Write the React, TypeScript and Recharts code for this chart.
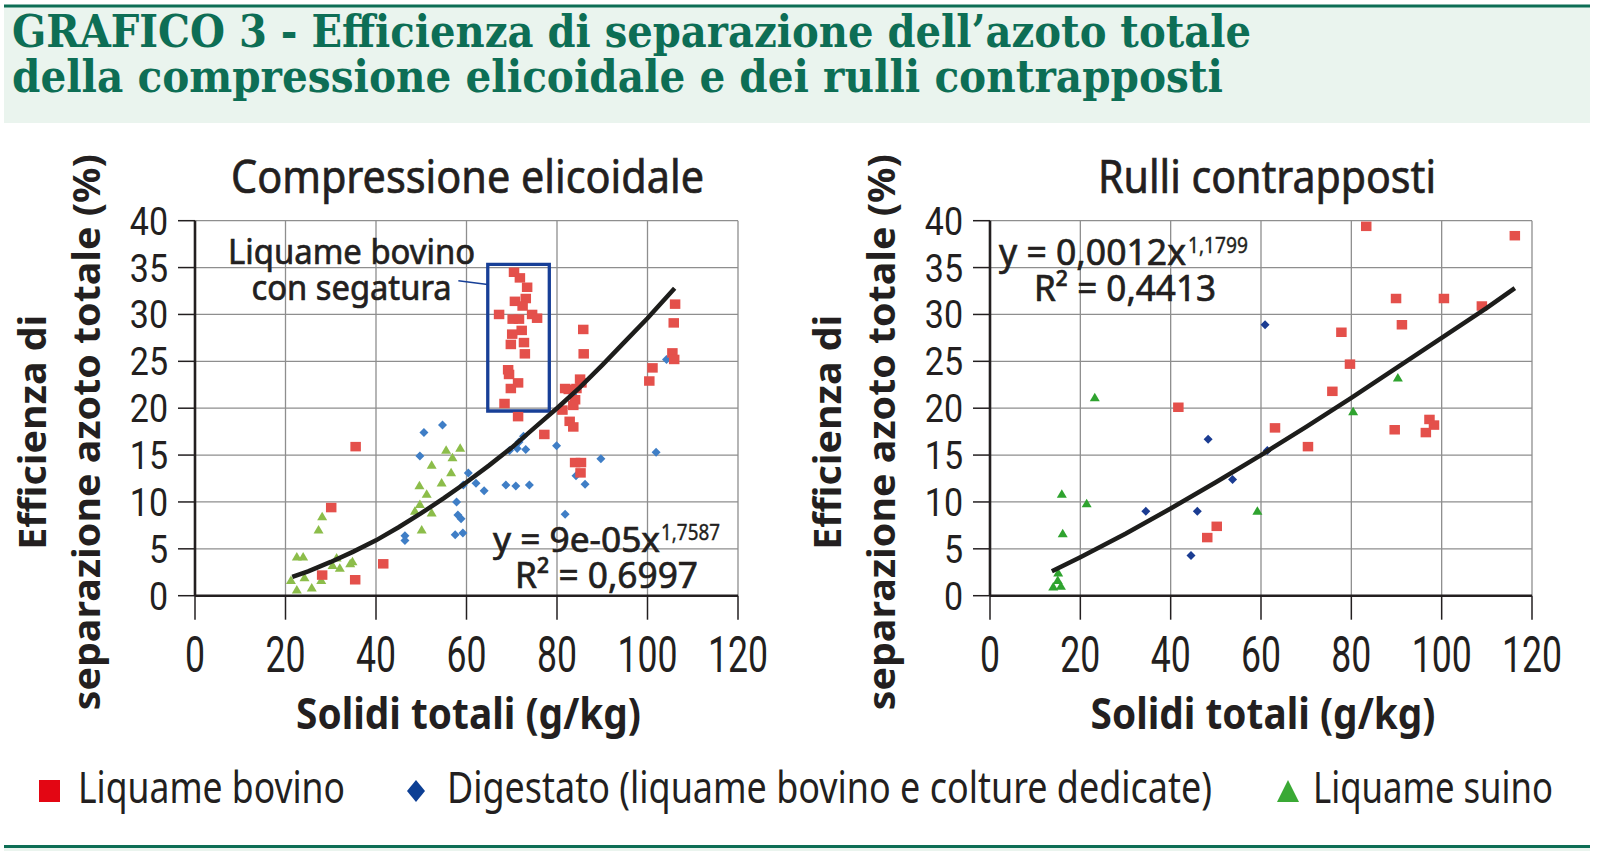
import React from "react";
import {
  ScatterChart,
  Scatter,
  XAxis,
  YAxis,
  CartesianGrid,
  ReferenceArea,
  ReferenceLine,
} from "recharts";

const xTicks = [0, 20, 40, 60, 80, 100, 120];
const yTicks = [0, 5, 10, 15, 20, 25, 30, 35, 40];

const legendLabels = [
  "Liquame bovino",
  "Digestato (liquame bovino e colture dedicate)",
  "Liquame suino",
];

// Compressione elicoidale
const eliBovino = [
  { x: 35.5, y: 15.9 }, { x: 30.1, y: 9.4 }, { x: 28.1, y: 2.2 }, { x: 35.4, y: 1.7 },
  { x: 41.6, y: 3.4 }, { x: 70.5, y: 34.5 }, { x: 71.8, y: 33.9 }, { x: 73.4, y: 32.9 },
  { x: 73.1, y: 31.7 }, { x: 70.7, y: 31.4 }, { x: 72.4, y: 30.9 }, { x: 67.2, y: 30.0 },
  { x: 74.5, y: 30.0 }, { x: 75.6, y: 29.6 }, { x: 70.2, y: 29.5 }, { x: 71.6, y: 29.5 },
  { x: 72.2, y: 28.3 }, { x: 70.1, y: 27.9 }, { x: 69.8, y: 26.8 }, { x: 72.7, y: 27.0 },
  { x: 72.9, y: 25.8 }, { x: 69.2, y: 24.1 }, { x: 69.4, y: 23.6 }, { x: 71.4, y: 22.7 },
  { x: 69.8, y: 22.1 }, { x: 68.4, y: 20.5 }, { x: 71.4, y: 19.1 }, { x: 77.2, y: 17.2 },
  { x: 85.8, y: 28.4 }, { x: 85.9, y: 25.8 }, { x: 85.1, y: 23.1 }, { x: 85.4, y: 22.7 },
  { x: 84.3, y: 22.1 }, { x: 81.8, y: 22.1 }, { x: 82.6, y: 22.0 }, { x: 84.0, y: 20.9 },
  { x: 83.6, y: 20.3 }, { x: 81.2, y: 19.8 }, { x: 82.8, y: 18.6 }, { x: 83.6, y: 18.0 },
  { x: 84.0, y: 14.2 }, { x: 85.3, y: 14.2 }, { x: 85.2, y: 13.1 }, { x: 106.1, y: 31.1 },
  { x: 105.8, y: 29.1 }, { x: 105.5, y: 25.9 }, { x: 105.9, y: 25.2 }, { x: 101.1, y: 24.3 },
  { x: 100.4, y: 22.9 },
];

const eliDigestato = [
  { x: 50.6, y: 17.4 }, { x: 54.7, y: 18.2 }, { x: 49.7, y: 14.9 }, { x: 60.4, y: 13.1 },
  { x: 59.3, y: 11.8 }, { x: 62.1, y: 12.0 }, { x: 63.9, y: 11.2 }, { x: 57.8, y: 10.0 },
  { x: 58.1, y: 8.6 }, { x: 58.8, y: 8.2 }, { x: 57.5, y: 6.5 }, { x: 59.2, y: 6.7 },
  { x: 46.4, y: 6.4 }, { x: 46.4, y: 5.9 }, { x: 72.6, y: 17.0 }, { x: 71.6, y: 16.4 },
  { x: 71.2, y: 15.7 }, { x: 69.5, y: 15.5 }, { x: 73.1, y: 15.6 }, { x: 79.9, y: 16.0 },
  { x: 68.7, y: 11.8 }, { x: 70.9, y: 11.7 }, { x: 73.9, y: 11.8 }, { x: 83.5, y: 21.5 },
  { x: 81.8, y: 8.7 }, { x: 89.7, y: 14.6 }, { x: 84.2, y: 12.8 }, { x: 86.2, y: 11.9 },
  { x: 101.9, y: 15.3 }, { x: 104.2, y: 25.2 },
];

const eliSuino = [
  { x: 22.5, y: 4.2 }, { x: 23.9, y: 4.2 }, { x: 21.2, y: 1.7 }, { x: 22.5, y: 0.7 },
  { x: 24.2, y: 2.0 }, { x: 25.8, y: 0.9 }, { x: 27.9, y: 1.7 }, { x: 27.3, y: 7.1 },
  { x: 28.1, y: 8.5 }, { x: 31.3, y: 4.1 }, { x: 30.4, y: 3.3 }, { x: 32.0, y: 3.0 },
  { x: 34.3, y: 3.5 }, { x: 34.8, y: 3.7 }, { x: 48.6, y: 9.1 }, { x: 49.7, y: 9.8 },
  { x: 49.6, y: 11.8 }, { x: 51.2, y: 10.9 }, { x: 52.3, y: 8.9 }, { x: 50.1, y: 7.1 },
  { x: 52.3, y: 14.0 }, { x: 54.5, y: 12.1 }, { x: 56.6, y: 13.2 }, { x: 55.5, y: 15.6 },
  { x: 56.9, y: 14.8 }, { x: 58.6, y: 15.8 },
];

// points
const eliTrend = [
  { x: 21.5, y: 2.0 }, { x: 25, y: 2.6 }, { x: 30, y: 3.6 }, { x: 35, y: 4.7 },
  { x: 40, y: 5.9 }, { x: 45, y: 7.3 }, { x: 50, y: 8.8 }, { x: 55, y: 10.4 },
  { x: 60, y: 12.1 }, { x: 65, y: 13.9 }, { x: 70, y: 15.8 }, { x: 75, y: 17.9 },
  { x: 80, y: 20.0 }, { x: 85, y: 22.2 }, { x: 90, y: 24.6 }, { x: 95, y: 27.1 },
  { x: 100, y: 29.6 }, { x: 106, y: 32.8 },
];

// Rulli contrapposti
const rulBovino = [
  { x: 41.7, y: 20.1 }, { x: 50.2, y: 7.4 }, { x: 48.1, y: 6.2 }, { x: 63.1, y: 17.9 },
  { x: 83.3, y: 39.4 }, { x: 116.2, y: 38.4 }, { x: 89.9, y: 31.7 }, { x: 100.5, y: 31.7 },
  { x: 108.9, y: 30.9 }, { x: 91.2, y: 28.9 }, { x: 77.8, y: 28.1 }, { x: 79.7, y: 24.7 },
  { x: 75.8, y: 21.8 }, { x: 70.4, y: 15.9 }, { x: 89.6, y: 17.7 }, { x: 97.3, y: 18.8 },
  { x: 98.3, y: 18.2 }, { x: 96.5, y: 17.4 },
];

const rulDigestato = [
  { x: 60.9, y: 28.9 }, { x: 48.3, y: 16.7 }, { x: 61.4, y: 15.5 }, { x: 53.7, y: 12.4 },
  { x: 34.5, y: 9.0 }, { x: 45.9, y: 9.0 }, { x: 44.5, y: 4.3 },
];

const rulSuino = [
  { x: 23.2, y: 21.2 }, { x: 15.9, y: 10.9 }, { x: 21.4, y: 9.9 }, { x: 16.1, y: 6.7 },
  { x: 15.1, y: 2.5 }, { x: 15.0, y: 1.7 }, { x: 15.7, y: 1.1 }, { x: 14.0, y: 1.0 },
  { x: 59.2, y: 9.1 }, { x: 80.4, y: 19.7 }, { x: 90.3, y: 23.3 },
];

const rulTrend = [
  { x: 13.7, y: 2.6 }, { x: 20, y: 4.1 }, { x: 30, y: 6.6 }, { x: 40, y: 9.3 },
  { x: 50, y: 12.1 }, { x: 60, y: 15.0 }, { x: 70, y: 18.0 }, { x: 80, y: 21.1 },
  { x: 90, y: 24.3 }, { x: 100, y: 27.5 }, { x: 110, y: 30.7 }, { x: 116.2, y: 32.8 },
];

const INK = "#231f20";
const GREEN = "#0d6e55";
const BAND = "#eaf4ee";

const square = (w: number, h: number, color: string) => (p: any) => (
  <rect x={p.cx - w / 2} y={p.cy - h / 2} width={w} height={h} fill={color} />
);
const diamond = (w: number, h: number, color: string) => (p: any) => (
  <polygon
    points={`${p.cx},${p.cy - h / 2} ${p.cx + w / 2},${p.cy} ${p.cx},${p.cy + h / 2} ${p.cx - w / 2},${p.cy}`}
    fill={color}
  />
);
const triangle = (w: number, h: number, color: string) => (p: any) => (
  <polygon
    points={`${p.cx},${p.cy - h / 2} ${p.cx + w / 2},${p.cy + h / 2} ${p.cx - w / 2},${p.cy + h / 2}`}
    fill={color}
  />
);
const noDot = () => <g />;

const XTick = (p: any) => (
  <text
    transform={`translate(${p.x},${p.y + 50}) scale(0.89,1.23)`}
    textAnchor="middle"
    fontFamily="Roboto"
    fontSize={40}
    fill={INK}
  >
    {p.payload.value}
  </text>
);

const YTick = (p: any) => (
  <text
    transform={`translate(${p.x},${p.y + 14}) scale(0.85,0.98)`}
    textAnchor="end"
    fontFamily="Roboto"
    fontSize={40}
    fill={INK}
  >
    {p.payload.value}
  </text>
);

const yTitle = (props: any) => {
  const vb = props.viewBox;
  const cy = vb.y + vb.height / 2 + 24;
  return (
    <text
      transform={`translate(${vb.x},${cy}) rotate(-90)`}
      textAnchor="middle"
      style={{ fontFamily: "Noto Sans", fontWeight: 700, fontSize: 38, fill: INK }}
    >
      <tspan x={0} y={-29} textLength={235} lengthAdjust="spacingAndGlyphs">Efficienza di</tspan>
      <tspan x={0} y={25} textLength={556} lengthAdjust="spacingAndGlyphs">separazione azoto totale (%)</tspan>
    </text>
  );
};

const xTitle = (props: any) => {
  const vb = props.viewBox;
  return (
    <text
      x={vb.x + vb.width / 2 + 2}
      y={vb.y + 133}
      textAnchor="middle"
      textLength={345}
      lengthAdjust="spacingAndGlyphs"
      style={{ fontFamily: "Noto Sans", fontWeight: 700, fontSize: 43, fill: INK }}
    >
      Solidi totali (g/kg)
    </text>
  );
};

type Pt = { x: number; y: number };
type PanelProps = {
  left: number;
  width: number;
  marginLeft: number;
  marginRight: number;
  bovino: Pt[];
  digestato: Pt[];
  suino: Pt[];
  trend: Pt[];
  blue: string;
  green: string;
  children?: React.ReactNode;
};

const Panel = (p: PanelProps) => (
  <div style={{ position: "absolute", left: p.left, top: 130 }}>
    <ScatterChart
      width={p.width}
      height={620}
      margin={{ top: 90.7, right: p.marginRight, bottom: 34.3, left: p.marginLeft }}
    >
      <CartesianGrid stroke="#8e8e8e" strokeWidth={1.3} />
      <XAxis
        type="number"
        dataKey="x"
        domain={[0, 120]}
        ticks={xTicks}
        interval={0}
        height={120}
        tickSize={24}
        tickMargin={2}
        axisLine={{ stroke: INK, strokeWidth: 2.6 }}
        tickLine={{ stroke: INK, strokeWidth: 1.5 }}
        tick={<XTick />}
        label={xTitle}
      />
      <YAxis
        type="number"
        dataKey="y"
        domain={[0, 40]}
        ticks={yTicks}
        interval={0}
        width={120}
        tickSize={17}
        tickMargin={10}
        axisLine={{ stroke: INK, strokeWidth: 2.6 }}
        tickLine={{ stroke: INK, strokeWidth: 1.5 }}
        tick={<YTick />}
        label={yTitle}
      />
      {p.children}
      <Scatter data={p.digestato} shape={diamond(9, 9, p.blue)} isAnimationActive={false} />
      <Scatter data={p.suino} shape={triangle(10, 8.5, p.green)} isAnimationActive={false} />
      <Scatter data={p.bovino} shape={square(10.5, 9.5, "#e4504b")} isAnimationActive={false} />
      <Scatter
        data={p.trend}
        line={{ stroke: "#1d1d1b", strokeWidth: 4.5 }}
        lineType="joint"
        shape={noDot}
        isAnimationActive={false}
      />
    </ScatterChart>
  </div>
);

const fit = (len: number) => ({ textLength: len, lengthAdjust: "spacingAndGlyphs" as const });

export default function App() {
  const sans = { fontFamily: "Noto Sans", fill: INK };
  const medium = { ...sans, stroke: INK, strokeWidth: 0.7 };
  return (
    <div style={{ position: "absolute", left: 0, top: 0, width: 1617, height: 851, background: "#ffffff", overflow: "hidden" }}>
      <Panel
        left={0}
        width={780}
        marginLeft={75}
        marginRight={42}
        bovino={eliBovino}
        digestato={eliDigestato}
        suino={eliSuino}
        trend={eliTrend}
        blue="#3f7ec6"
        green="#8cbd4a"
      >
        <ReferenceArea
          x1={64.7}
          x2={78.3}
          y1={19.7}
          y2={35.35}
          fill="none"
          fillOpacity={0}
          stroke="#173f97"
          strokeWidth={3.3}
          ifOverflow="visible"
        />
        <ReferenceLine
          segment={[{ x: 58.2, y: 33.6 }, { x: 64.7, y: 33.2 }]}
          stroke="#173f97"
          strokeWidth={1.6}
        />
      </Panel>
      <Panel
        left={780}
        width={837}
        marginLeft={90}
        marginRight={85}
        bovino={rulBovino}
        digestato={rulDigestato}
        suino={rulSuino}
        trend={rulTrend}
        blue="#1b3c92"
        green="#2fa32f"
      />
      <svg width={1617} height={851} style={{ position: "absolute", left: 0, top: 0, pointerEvents: "none" }}>
        <rect x={4} y={7} width={1586} height={116} fill={BAND} />
        <rect x={4} y={4.5} width={1586} height={3} fill={GREEN} />
        <text fontFamily="'DejaVu Serif Condensed', 'DejaVu Serif'" fontWeight={700} fontSize={44} fill={GREEN}>
          <tspan x={12} y={47} {...fit(1239)}>GRAFICO 3 - Efficienza di separazione dell’azoto totale</tspan>
          <tspan x={12} y={92} {...fit(1211)}>della compressione elicoidale e dei rulli contrapposti</tspan>
        </text>

        <text x={467.5} y={193} textAnchor="middle" fontSize={45} {...medium} {...fit(473)}>
          Compressione elicoidale
        </text>
        <text x={1267} y={193} textAnchor="middle" fontSize={45} {...medium} {...fit(338)}>
          Rulli contrapposti
        </text>

        <text textAnchor="middle" fontSize={35} {...medium}>
          <tspan x={351.6} y={264} {...fit(247)}>Liquame bovino</tspan>
          <tspan x={351.6} y={300} {...fit(200)}>con segatura</tspan>
        </text>

        <text {...medium}>
          <tspan x={493} y={552} fontSize={34} {...fit(167)}>y = 9e-05x</tspan>
          <tspan x={661} y={540} fontSize={22} strokeWidth={0.4} {...fit(59)}>1,7587</tspan>
          <tspan x={515} y={588} fontSize={36} {...fit(183)}>R² = 0,6997</tspan>
        </text>

        <text {...medium}>
          <tspan x={999} y={265} fontSize={36} {...fit(187)}>y = 0,0012x</tspan>
          <tspan x={1188} y={253} fontSize={22} strokeWidth={0.4} {...fit(60)}>1,1799</tspan>
          <tspan x={1034} y={301} fontSize={36} {...fit(182)}>R² = 0,4413</tspan>
        </text>

        <rect x={39} y={780} width={21} height={22} fill="#e30613" />
        <polygon points="416,780 425,791 416,802 407,791" fill="#0d3f94" />
        <polygon points="1288,780 1299,802 1277,802" fill="#3aa935" />
        <g transform="translate(0,803) scale(1,1.16)">
          <text x={78} y={0} fontSize={38} {...sans} {...fit(267)}>{legendLabels[0]}</text>
          <text x={447} y={0} fontSize={38} {...sans} {...fit(765)}>{legendLabels[1]}</text>
          <text x={1313} y={0} fontSize={38} {...sans} {...fit(240)}>{legendLabels[2]}</text>
        </g>

        <rect x={4} y={845} width={1586} height={3} fill={GREEN} />
        <rect x={4} y={848} width={1586} height={3} fill={BAND} />
      </svg>
    </div>
  );
}
